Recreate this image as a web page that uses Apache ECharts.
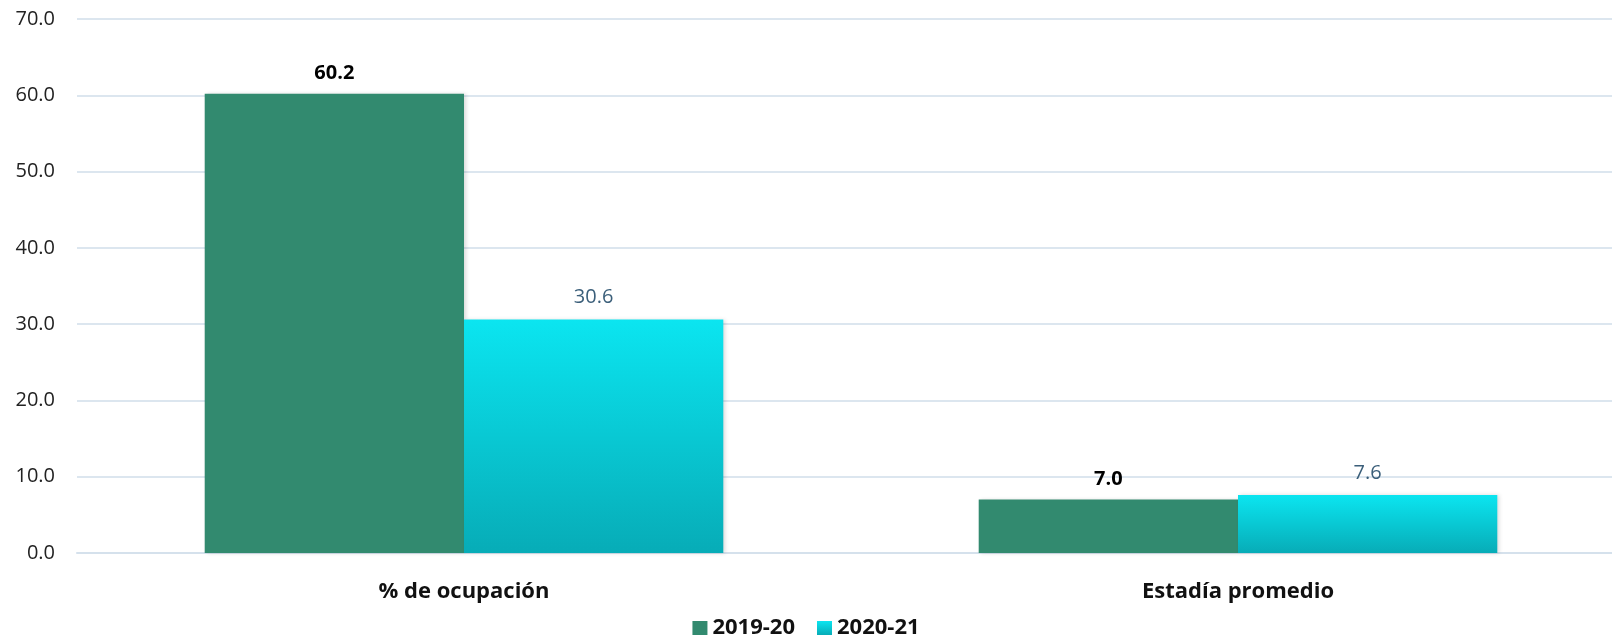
<!DOCTYPE html>
<html>
<head>
<meta charset="utf-8">
<script src="https://cdn.jsdelivr.net/npm/echarts@6/dist/echarts.min.js"></script>
<style>
  html, body { margin: 0; padding: 0; background: #fff; }
  #chart { width: 1612px; height: 640px; }
</style>
</head>
<body>
<div id="chart"></div>
<script>
var categories = ['% de ocupación', 'Estadía promedio'];
var seriesNames = ['2019-20', '2020-21'];
var values2019 = [60.2, 7.0];
var values2020 = [30.6, 7.6];

var chart = echarts.init(document.getElementById('chart'));
var font = '"Open Sans", "Noto Sans", sans-serif';

var cyan = new echarts.graphic.LinearGradient(0, 0, 0, 1, [
    { offset: 0, color: '#0be5f0' },
    { offset: 1, color: '#07acb7' }
]);

var option = {
    animation: false,
    textStyle: { fontFamily: font },
    // grid runs a bit past the right edge, like the original
    grid: { left: 77, right: -13, top: 19, bottom: 87, containLabel: false, outerBoundsMode: 'none' },
    legend: {
        top: 612,
        left: 'center',
        icon: 'rect',
        itemWidth: 15,
        itemHeight: 14,
        itemGap: 22,
        textStyle: { fontSize: 22, fontWeight: 'bold', color: '#111', fontFamily: font },
        data: seriesNames
    },
    xAxis: {
        type: 'category',
        data: categories,
        axisTick: { show: false },
        axisLine: { lineStyle: { color: '#d5e1ec', width: 2 } },
        axisLabel: { fontSize: 22, fontWeight: 'bold', color: '#111', margin: 28, fontFamily: font }
    },
    yAxis: {
        type: 'value',
        min: 0,
        max: 70,
        interval: 10,
        axisLine: { show: false },
        axisTick: { show: false },
        splitLine: { lineStyle: { color: '#dce6ef', width: 2 } },
        axisLabel: {
            fontSize: 20, color: '#222', margin: 22, fontFamily: font,
            formatter: function (v) { return v.toFixed(1); }
        }
    },
    series: [
        {
            name: seriesNames[0],
            type: 'bar',
            data: values2019,
            barGap: '0%',
            barCategoryGap: '33%',
            itemStyle: { color: '#328a6f', shadowColor: 'rgba(0,0,0,0.15)', shadowBlur: 4, shadowOffsetX: 2 },
            label: {
                show: true, position: 'top', distance: 10,
                fontSize: 20, fontWeight: 'bold', color: '#000', fontFamily: font,
                formatter: function (p) { return p.value.toFixed(1); }
            }
        },
        {
            name: seriesNames[1],
            type: 'bar',
            data: values2020,
            itemStyle: { color: cyan, shadowColor: 'rgba(0,0,0,0.15)', shadowBlur: 4, shadowOffsetX: 2 },
            label: {
                show: true, position: 'top', distance: 12,
                fontSize: 20, color: '#3b5f7a', fontFamily: font,
                formatter: function (p) { return p.value.toFixed(1); }
            }
        }
    ]
};
chart.setOption(option);
</script>
</body>
</html>
